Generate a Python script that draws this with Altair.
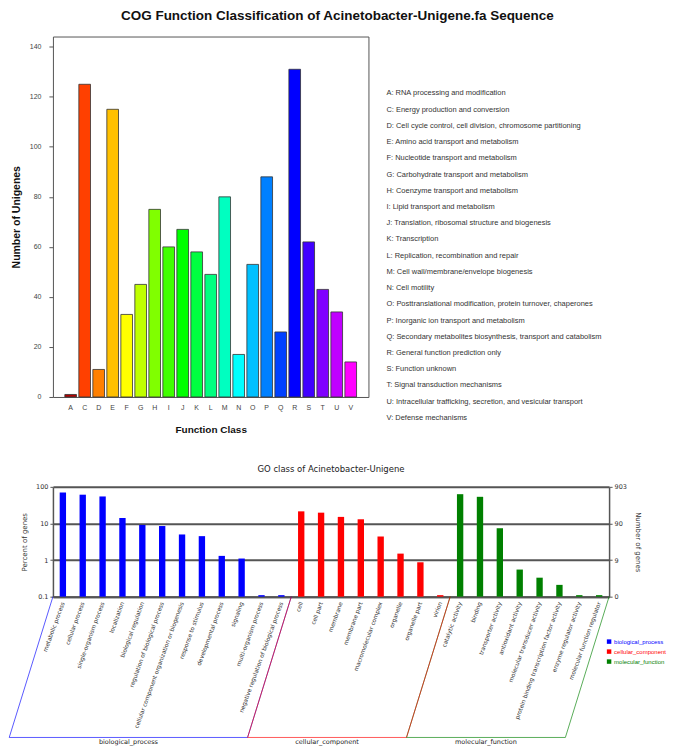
import altair as alt
import pandas as pd

# ---------------- COG data ----------------
cog_codes = ["A", "C", "D", "E", "F", "G", "H", "I", "J", "K", "L",
             "M", "N", "O", "P", "Q", "R", "S", "T", "U", "V"]
cog_counts = [1, 125, 11, 115, 33, 45, 75, 60, 67, 58, 49,
              80, 17, 53, 88, 26, 131, 62, 43, 34, 14]
cog_desc = [
    "A: RNA processing and modification",
    "C: Energy production and conversion",
    "D: Cell cycle control, cell division, chromosome partitioning",
    "E: Amino acid transport and metabolism",
    "F: Nucleotide transport and metabolism",
    "G: Carbohydrate transport and metabolism",
    "H: Coenzyme transport and metabolism",
    "I: Lipid transport and metabolism",
    "J: Translation, ribosomal structure and biogenesis",
    "K: Transcription",
    "L: Replication, recombination and repair",
    "M: Cell wall/membrane/envelope biogenesis",
    "N: Cell motility",
    "O: Posttranslational modification, protein turnover, chaperones",
    "P: Inorganic ion transport and metabolism",
    "Q: Secondary metabolites biosynthesis, transport and catabolism",
    "R: General function prediction only",
    "S: Function unknown",
    "T: Signal transduction mechanisms",
    "U: Intracellular trafficking, secretion, and vesicular transport",
    "V: Defense mechanisms",
]
cog_colors = ["#B00000", "#FF4000", "#FF8000", "#FFC000", "#FFFF00", "#C0FF00",
              "#80FF00", "#40FF00", "#00FF00", "#00FF40", "#00FF80", "#00FFC0",
              "#00FFFF", "#00C0FF", "#0080FF", "#0040FF", "#0000FF", "#4000FF",
              "#8000FF", "#C000FF", "#FF00FF"]
cog_ymax = 144.1

# ---------------- GO data ----------------
bp_terms = ["metabolic process", "cellular process", "single-organism process",
            "localization", "biological regulation", "regulation of biological process",
            "cellular component organization or biogenesis", "response to stimulus",
            "developmental process", "signaling", "multi-organism process",
            "negative regulation of biological process"]
bp_pct = [70, 61, 54.6, 14.1, 9.1, 8.5, 5.0, 4.5, 1.3, 1.1, 0.11, 0.11]
cc_terms = ["cell", "cell part", "membrane", "membrane part", "macromolecular complex",
            "organelle", "organelle part", "virion"]
cc_pct = [21.4, 19.7, 15.1, 13.0, 4.4, 1.5, 0.87, 0.11]
mf_terms = ["catalytic activity", "binding", "transporter activity", "antioxidant activity",
            "molecular transducer activity", "protein binding transcription factor activity",
            "enzyme regulator activity", "molecular function regulator"]
mf_pct = [63, 53.4, 7.4, 0.55, 0.33, 0.21, 0.11, 0.11]
group_names = ["biological_process", "cellular_component", "molecular_function"]
group_colors = ["#0000FF", "#FF0000", "#008000"]
total_genes = 903

FONT_TOP = "Liberation Sans"
FONT_GO = "DejaVu Sans"

# ---------------- top chart ----------------
cog_df = pd.DataFrame({"code": cog_codes, "count": cog_counts, "color": cog_colors})
desc_df = pd.DataFrame({"desc": cog_desc})

cog_bars = alt.Chart(cog_df).mark_bar(stroke="#333333", strokeWidth=0.8).encode(
    x=alt.X("code:N", sort=cog_codes,
            scale=alt.Scale(paddingInner=0.167, paddingOuter=0.85),
            axis=alt.Axis(title="Function Class", labelAngle=0, ticks=False, domain=False,
                          labelPadding=7, labelFontSize=7, labelColor="#444444",
                          labelFont=FONT_TOP, titleFont=FONT_TOP, titleFontSize=10,
                          titleFontWeight="bold", titlePadding=14, titleColor="#111111")),
    y=alt.Y("count:Q", stack=None, scale=alt.Scale(domain=[0, cog_ymax], nice=False),
            axis=alt.Axis(title="Number of Unigenes", values=[0, 20, 40, 60, 80, 100, 120, 140],
                          grid=False, domain=False, tickSize=4, tickColor="#555555",
                          labelPadding=8, labelFontSize=7, labelColor="#444444",
                          labelFont=FONT_TOP, titleFont=FONT_TOP, titleFontSize=10.5,
                          titleFontWeight="bold", titlePadding=8, titleColor="#111111")),
    color=alt.Color("color:N", scale=None),
)

cog_legend = alt.Chart(desc_df).mark_text(
    align="left", baseline="middle", fontSize=7.5, font=FONT_TOP, color="#333333"
).encode(
    x=alt.value(334),
    y=alt.Y("desc:N", sort=None,
            scale=alt.Scale(type="point", range=[57, 382], padding=0), axis=None),
    text="desc:N",
)

top = alt.layer(cog_bars, cog_legend).resolve_scale(y="independent").properties(
    width=316, height=361,
    view=alt.ViewBackground(stroke="#555555", strokeWidth=1),
)

# ---------------- bottom chart ----------------
go_rows = []
for gname, terms, vals in zip(group_names, [bp_terms, cc_terms, mf_terms],
                              [bp_pct, cc_pct, mf_pct]):
    for t, v in zip(terms, vals):
        go_rows.append({"term": t, "pct": v, "group": gname})
go_df = pd.DataFrame(go_rows)
term_order = bp_terms + cc_terms + mf_terms

color_enc = alt.Color("group:N", scale=alt.Scale(domain=group_names, range=group_colors),
                      legend=None)
x_band = alt.Scale(paddingInner=0.68, paddingOuter=0.34)
y_log = alt.Scale(type="log", domain=[0.1, 100], nice=False)

go_bars = alt.Chart(go_df).mark_bar().encode(
    x=alt.X("term:N", sort=term_order, scale=x_band,
            axis=alt.Axis(title=None, labelAngle=290, labelAlign="right",
                          labelBaseline="middle", labelFontSize=5.8, labelFont=FONT_GO,
                          labelColor="#333333", ticks=False, domain=True,
                          domainColor="#555555", domainWidth=2, labelPadding=5,
                          labelLimit=300)),
    y=alt.Y("pct:Q", stack=None, scale=y_log,
            axis=alt.Axis(title="Percent of genes", values=[0.1, 1, 10, 100], format="~g",
                          grid=True, gridColor="#555555", gridWidth=2, domain=True,
                          domainColor="#555555", domainWidth=1.5, tickSize=3,
                          tickColor="#555555", labelPadding=2, labelFontSize=6.5,
                          labelFont=FONT_GO, labelColor="#333333", titleFont=FONT_GO,
                          titleFontSize=7, titleFontWeight="normal", titleColor="#333333",
                          titlePadding=8)),
    color=color_enc,
)

go_right = alt.Chart(go_df).mark_point(opacity=0).encode(
    x=alt.X("term:N", sort=term_order, scale=x_band, axis=None),
    y=alt.Y("pct:Q", stack=None, scale=y_log,
            axis=alt.Axis(orient="right", title="Number of genes", values=[0.1, 1, 10, 100],
                          labelExpr=f"'' + floor(datum.value * {total_genes} / 100)",
                          grid=False, domain=True, domainColor="#555555", domainWidth=1.5,
                          tickSize=3, tickColor="#555555", labelPadding=2,
                          labelFontSize=6.5, labelFont=FONT_GO, labelColor="#333333",
                          titleFont=FONT_GO, titleFontSize=7, titleFontWeight="normal",
                          titleColor="#333333", titlePadding=8)),
)

# bracket geometry derived from group sizes
sizes = [len(bp_terms), len(cc_terms), len(mf_terms)]
starts = [0, sizes[0], sizes[0] + sizes[1]]
ends = [s + n for s, n in zip(starts, sizes)]
shift = 2.2
diag_rows, bottom_rows, label_rows = [], [], []
for i in [0, 2, 1]:
    g = group_names[i]
    diag_rows.append({"x": starts[i], "x2": starts[i] - shift, "group": g})
    diag_rows.append({"x": ends[i], "x2": ends[i] - shift, "group": g})
for i in range(3):
    g = group_names[i]
    bottom_rows.append({"x": starts[i] - shift, "x2": ends[i] - shift, "group": g})
    label_rows.append({"x": (starts[i] + ends[i]) / 2 - shift, "group": g})
diag_df = pd.DataFrame(diag_rows)
bottom_df = pd.DataFrame(bottom_rows)
label_df = pd.DataFrame(label_rows)
total_n = sum(sizes)
x_lin = alt.Scale(domain=[0, total_n], nice=False, zero=False)

diag = alt.Chart(diag_df).mark_rule(strokeWidth=1, opacity=0.65).encode(
    x=alt.X("x:Q", scale=x_lin, axis=None),
    x2="x2:Q",
    y=alt.value(110),
    y2=alt.value(251),
    color=color_enc,
)
bottoms = alt.Chart(bottom_df).mark_rule(strokeWidth=1, opacity=0.65).encode(
    x=alt.X("x:Q", scale=x_lin, axis=None),
    x2="x2:Q",
    y=alt.value(251),
    color=color_enc,
)
group_labels = alt.Chart(label_df).mark_text(
    fontSize=6.5, font=FONT_GO, color="#222222", baseline="middle"
).encode(
    x=alt.X("x:Q", scale=x_lin, axis=None),
    y=alt.value(256),
    text="group:N",
)

leg_df = pd.DataFrame({"group": group_names})
leg_y = alt.Y("group:N", sort=group_names,
              scale=alt.Scale(type="point", range=[155, 175], padding=0), axis=None)
leg_sq = alt.Chart(leg_df).mark_square(size=20, opacity=1).encode(
    x=alt.value(557), y=leg_y, color=color_enc)
leg_tx = alt.Chart(leg_df).mark_text(align="left", baseline="middle", fontSize=6,
                                     font=FONT_TOP).encode(
    x=alt.value(562), y=leg_y, text="group:N", color=color_enc)

bottom = alt.layer(go_bars, go_right, diag, bottoms, group_labels, leg_sq, leg_tx).resolve_scale(
    x="independent", y="independent"
).properties(
    width=557, height=110,
    title=alt.TitleParams("GO class of Acinetobacter-Unigene", fontSize=8.5, font=FONT_GO,
                          fontWeight="normal", color="#222222", anchor="middle", offset=10),
)

chart = alt.vconcat(top, bottom, spacing=29).properties(
    padding=0,
    title=alt.TitleParams("COG Function Classification of Acinetobacter-Unigene.fa Sequence",
                          fontSize=13.5, font=FONT_TOP, fontWeight="bold", color="#111111",
                          anchor="middle", offset=14),
).configure_view(stroke=None)

chart.save("out.html", embed_options={"renderer": "svg", "actions": False})
